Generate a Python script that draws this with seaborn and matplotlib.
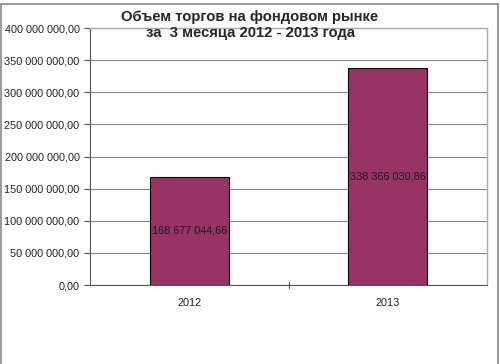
import pandas as pd
import seaborn as sns
import matplotlib.pyplot as plt
from matplotlib.patches import Rectangle

# data
years = ["2012", "2013"]
volumes = [168677044.66, 338366030.86]
value_labels = ["168 677 044,66", "338 366 030,86"]
y_ticks = [0, 50e6, 100e6, 150e6, 200e6, 250e6, 300e6, 350e6, 400e6]

df = pd.DataFrame({"year": years, "volume": volumes})

sns.set_style("white")
plt.rcParams['font.family'] = ['Liberation Sans', 'DejaVu Sans']

fig = plt.figure(figsize=(5, 3.64), dpi=100)
ax = fig.add_axes([0.18, 0.217, 0.794, 0.706])

sns.barplot(data=df, x="year", y="volume", color="#993366", saturation=1,
            width=0.4, edgecolor="black", linewidth=0.8, ax=ax, zorder=3)

ax.set_ylim(0, 400e6)
ax.set_yticks(y_ticks)
ax.set_yticklabels([f"{t:,.2f}".replace(",", " ").replace(".", ",") for t in y_ticks],
                   fontsize=7.8, color="#222222")
ax.tick_params(axis="x", labelsize=7.8, colors="#222222", length=0, pad=9)
ax.tick_params(axis="y", length=4, direction="out", width=0.8, color="#555555", left=True)
ax.grid(axis="y", color="#888888", linewidth=0.8, zorder=0)
ax.set_xlabel("")
ax.set_ylabel("")

for side in ["top", "right"]:
    ax.spines[side].set_color("#aaaaaa")
    ax.spines[side].set_linewidth(1)
ax.spines["left"].set_color("#555555")
ax.spines["bottom"].set_color("#555555")

# small tick between categories
ax.axvline(0.5, ymin=-0.012, ymax=0.012, color="#555555", linewidth=0.8, clip_on=False)

for i, (v, lab) in enumerate(zip(volumes, value_labels)):
    ax.text(i, v / 2, lab, ha="center", va="center", fontsize=7.8, color="#1a1a1a", zorder=4)

fig.text(0.5, 0.952, "Объем торгов на фондовом рынке", ha="center", va="center",
         fontsize=10.7, fontweight="bold")
fig.text(0.5, 0.908, "за  3 месяца 2012 - 2013 года", ha="center", va="center",
         fontsize=10.7, fontweight="bold")

fig.patches.append(Rectangle((0.002, -0.01), 0.994, 1.0, transform=fig.transFigure,
                             fill=False, edgecolor="#888888", linewidth=1.2))

fig.savefig("out.png", dpi=100)
